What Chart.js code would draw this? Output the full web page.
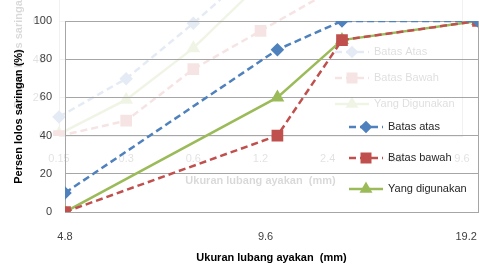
<!DOCTYPE html>
<html>
<head>
<meta charset="utf-8">
<script src="https://cdn.jsdelivr.net/npm/chart.js@4/dist/chart.umd.min.js"></script>
<style>
  html, body { margin: 0; padding: 0; background: #ffffff; }
  #wrap { position: relative; width: 481px; height: 269px; overflow: hidden; }
  #ghostChart { position: absolute; left: 0; top: -76px; opacity: 0.15; }
  #sieveChart { position: absolute; left: 0; top: 0; }
</style>
</head>
<body>
<div id="wrap">
  <canvas id="ghostChart" width="481" height="269"></canvas>
  <canvas id="sieveChart" width="481" height="269"></canvas>
</div>
<script>
// coarse aggregate: sieve sizes (mm) and passing percentages
const sizes = [4.8, 10, 12.5, 20];
const batasAtas = [10, 85, 100, 100];
const batasBawah = [0, 40, 90, 100];
const yangDigunakan = [0, 60, 90, 100];
const seriesNames = ["Batas atas", "Batas bawah", "Yang digunakan"];
const xTicks = [4.8, 9.6, 19.2];
const yTicks = [0, 20, 40, 60, 80, 100];

// faint chart showing through from behind (fine aggregate)
const ghostSizes = ["0.15", "0.3", "0.6", "1.2", "2.4", "4.8", "9.6"];
const ghostAtas = [10, 30, 59, 90, 100, 100, 100];
const ghostBawah = [0, 8, 35, 55, 75, 90, 100];
const ghostDigunakan = [1, 19, 46, 80, 95, 100, 100];
const ghostNames = ["Batas Atas", "Batas Bawah", "Yang Digunakan"];

const gridGray = "#a6a6a6";
const textGray = "#404040";
const fontFamily = "'Liberation Sans', Arial, sans-serif";

const blue = "#4f81bd";
const red = "#c0504d";
const green = "#9bbb59";

function pairs(values) {
    return values.map((v, i) => ({ x: sizes[i], y: v }));
}

function seriesStyle(color, style, radius, dashed) {
    return {
        borderColor: color,
        backgroundColor: color,
        pointBackgroundColor: color,
        pointBorderColor: color,
        borderWidth: 2.5,
        borderDash: dashed ? [7, 4] : [],
        pointStyle: style,
        pointRadius: radius,
        tension: 0
    };
}

// legend drawn inside the plot, like the original
function makeLegend(id, dx, dy, gap) {
    return {
        id: id,
        afterDraw(chart) {
            const ctx = chart.ctx;
            const area = chart.chartArea;
            const x0 = area.right - dx;
            ctx.save();
            ctx.strokeStyle = gridGray;
            ctx.lineWidth = 1;
            ctx.beginPath();
            ctx.moveTo(Math.round(area.right) + 0.5, area.top);
            ctx.lineTo(Math.round(area.right) + 0.5, area.bottom);
            ctx.stroke();

            chart.data.datasets.forEach((ds, i) => {
                const y = area.top + dy + i * gap;
                ctx.strokeStyle = ds.borderColor;
                ctx.lineWidth = ds.borderWidth;
                ctx.setLineDash(ds.borderDash || []);
                ctx.beginPath();
                ctx.moveTo(x0, y);
                ctx.lineTo(x0 + 34, y);
                ctx.stroke();
                ctx.setLineDash([]);
                ctx.fillStyle = ds.pointBackgroundColor;
                ctx.strokeStyle = ds.pointBorderColor;
                Chart.helpers.drawPoint(ctx, {
                    pointStyle: ds.pointStyle,
                    radius: ds.pointRadius - 0.5,
                    rotation: 0,
                    borderWidth: 1
                }, x0 + 17, y);
                ctx.fillStyle = "#262626";
                ctx.font = "11px " + fontFamily;
                ctx.textBaseline = "middle";
                ctx.textAlign = "left";
                ctx.fillText(ds.label, x0 + 39, y);
            });
            ctx.restore();
        }
    };
}

function axisTitle(text, padding) {
    return {
        display: true,
        text: text,
        color: "#000000",
        padding: padding,
        font: { family: fontFamily, size: 11, weight: "bold" }
    };
}

const tickFont = { family: fontFamily, size: 11 };

// the ghost chart, drawn faintly behind
new Chart(document.getElementById("ghostChart"), {
    type: "line",
    data: {
        labels: ghostSizes,
        datasets: [
            Object.assign({ label: ghostNames[0], data: ghostAtas }, seriesStyle(blue, "rectRot", 5, true)),
            Object.assign({ label: ghostNames[1], data: ghostBawah }, seriesStyle(red, "rect", 6.5, true)),
            Object.assign({ label: ghostNames[2], data: ghostDigunakan }, seriesStyle(green, "triangle", 5.5, false))
        ]
    },
    options: {
        responsive: false,
        animation: false,
        events: [],
        layout: { autoPadding: false, padding: { left: 0, right: 19, top: 21, bottom: 0 } },
        plugins: { legend: { display: false }, tooltip: { enabled: false } },
        scales: {
            x: {
                offset: false,
                afterFit(scale) {
                    scale.height = 57;
                    scale.paddingLeft = 0;
                    scale.paddingRight = 0;
                },
                ticks: { autoSkip: false, maxRotation: 0, padding: 16, color: textGray, font: tickFont },
                grid: { display: false, drawTicks: false },
                border: { display: true, color: gridGray },
                title: axisTitle("Ukuran lubang ayakan  (mm)", { top: 0, bottom: 5 })
            },
            y: {
                min: 0,
                max: 100,
                afterBuildTicks(scale) {
                    scale.ticks = yTicks.map(v => ({ value: v }));
                },
                afterFit(scale) {
                    scale.width = 59;
                },
                ticks: { padding: 14, color: textGray, font: tickFont },
                grid: { color: gridGray, drawTicks: false },
                border: { display: true, color: gridGray },
                title: axisTitle("Persen lolos saringan (%)", { top: 12, bottom: 0 })
            }
        }
    },
    plugins: [makeLegend("ghostLegend", 127, 107, 26)]
});

// the main chart
new Chart(document.getElementById("sieveChart"), {
    type: "line",
    data: {
        datasets: [
            Object.assign({ label: seriesNames[0], data: pairs(batasAtas) }, seriesStyle(blue, "rectRot", 5, true)),
            Object.assign({ label: seriesNames[1], data: pairs(batasBawah) }, seriesStyle(red, "rect", 6.5, true)),
            Object.assign({ label: seriesNames[2], data: pairs(yangDigunakan) }, seriesStyle(green, "triangle", 5.5, false))
        ]
    },
    options: {
        responsive: false,
        animation: false,
        events: [],
        layout: {
            autoPadding: false,
            padding: { left: 0, right: 3, top: 21, bottom: 0 }
        },
        plugins: {
            legend: { display: false },
            tooltip: { enabled: false }
        },
        scales: {
            x: {
                type: "logarithmic",
                min: 4.8,
                max: 20,
                afterBuildTicks(scale) {
                    scale.ticks = xTicks.map(v => ({ value: v }));
                },
                afterFit(scale) {
                    scale.height = 57;
                    scale.paddingLeft = 0;
                    scale.paddingRight = 0;
                },
                ticks: {
                    autoSkip: false,
                    maxRotation: 0,
                    padding: 18,
                    color: textGray,
                    font: tickFont,
                    callback: value => String(value)
                },
                grid: { display: false, drawTicks: false },
                border: { display: true, color: gridGray, width: 1 },
                title: axisTitle("Ukuran lubang ayakan  (mm)", { top: 0, bottom: 4 })
            },
            y: {
                min: 0,
                max: 100,
                afterBuildTicks(scale) {
                    scale.ticks = yTicks.map(v => ({ value: v }));
                },
                afterFit(scale) {
                    scale.width = 65;
                },
                ticks: {
                    padding: 13,
                    color: textGray,
                    font: tickFont
                },
                grid: { color: gridGray, lineWidth: 1, drawTicks: false },
                border: { display: true, color: gridGray, width: 1 },
                title: axisTitle("Persen lolos saringan (%)", { top: 12, bottom: 0 })
            }
        }
    },
    plugins: [makeLegend("innerLegend", 129, 106, 31)]
});
</script>
</body>
</html>
